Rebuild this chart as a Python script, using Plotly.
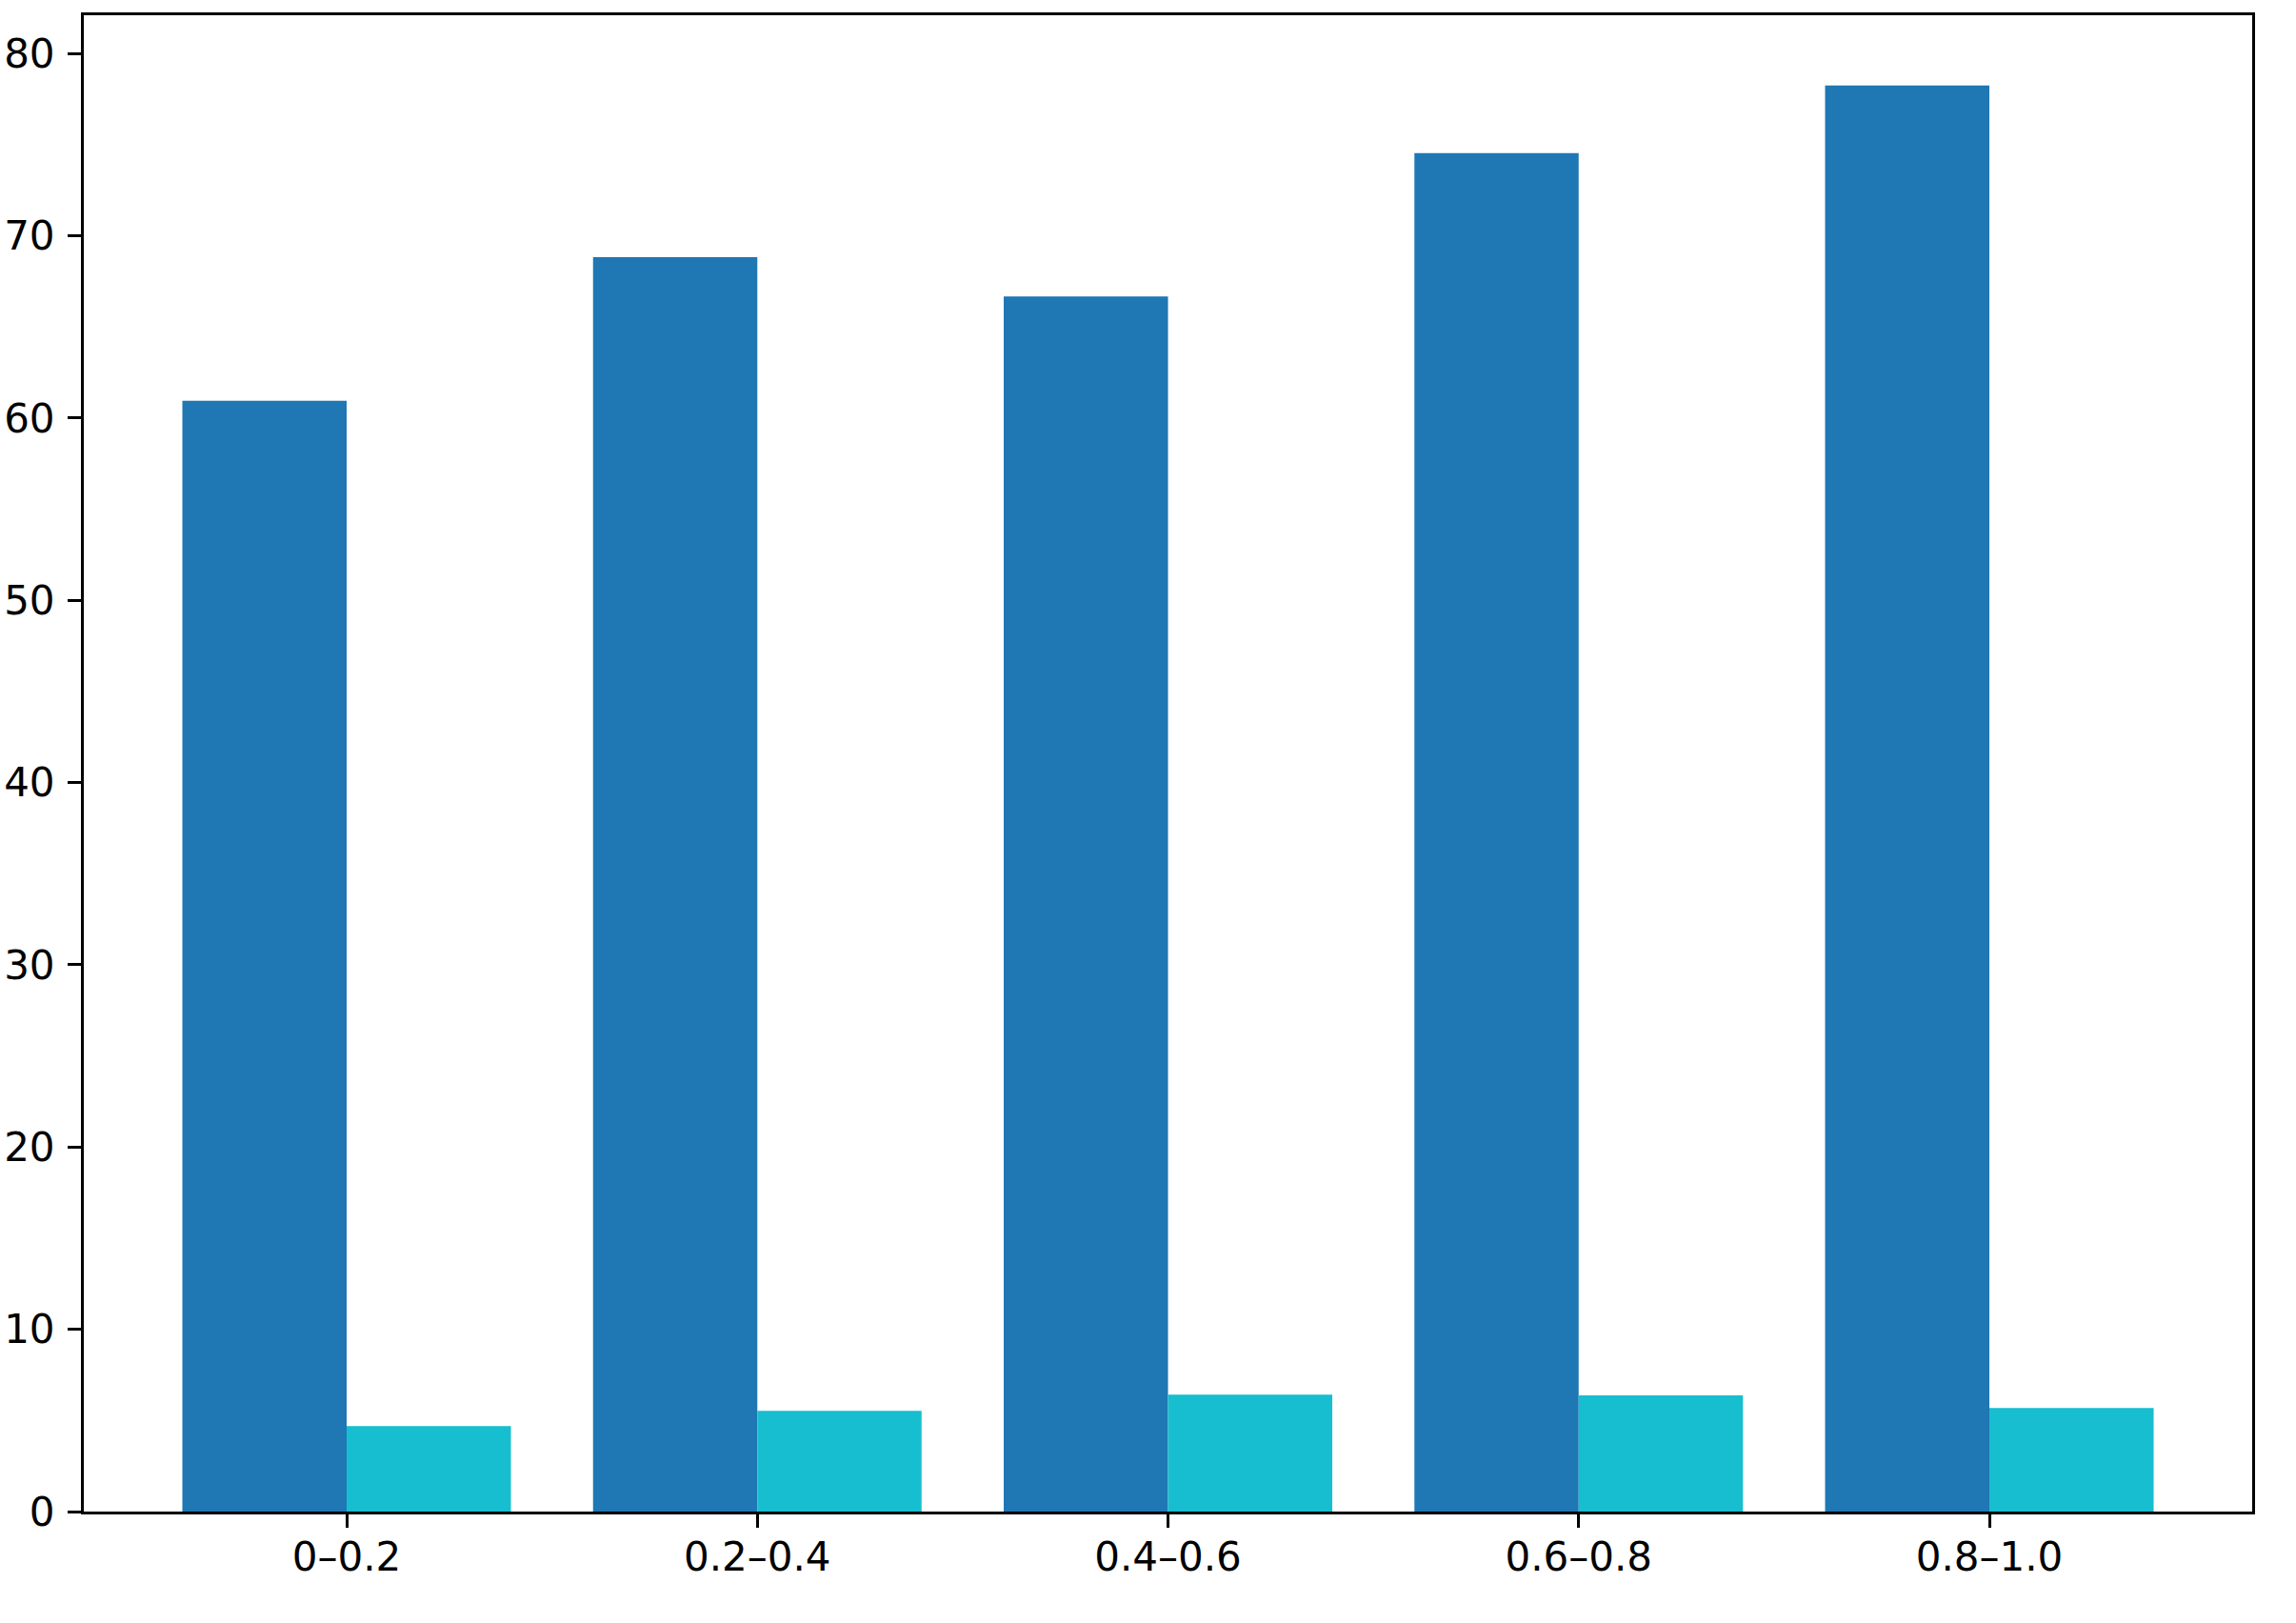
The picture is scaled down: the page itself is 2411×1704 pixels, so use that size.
import plotly.graph_objects as go

categories = ["0–0.2", "0.2–0.4", "0.4–0.6", "0.6–0.8", "0.8–1.0"]
series_a = [60.95, 68.83, 66.67, 74.54, 78.25]
series_b = [4.69, 5.52, 6.41, 6.37, 5.68]

AXIS = dict(
    showline=True, linecolor="black", linewidth=3, mirror=True,
    ticks="outside", ticklen=14, tickwidth=3, tickcolor="black",
    showgrid=False, zeroline=False, automargin=False,
    tickfont=dict(family="DejaVu Sans", size=42, color="black"),
)

fig = go.Figure()
fig.add_trace(go.Bar(x=categories, y=series_a, marker=dict(color="#1f77b4", line=dict(width=0))))
fig.add_trace(go.Bar(x=categories, y=series_b, marker=dict(color="#17becf", line=dict(width=0))))

fig.update_xaxes(**AXIS, range=[-0.64, 4.64], ticklabelstandoff=-5)
fig.update_yaxes(**AXIS, range=[0, 82.1], tickvals=[0, 10, 20, 30, 40, 50, 60, 70, 80],
                 ticklabelstandoff=5)
fig.update_layout(
    width=2411, height=1704,
    barmode="group", bargap=0.2, bargroupgap=0,
    paper_bgcolor="white", plot_bgcolor="white",
    showlegend=False,
    margin=dict(l=88, r=46, t=16, b=117, pad=0),
)
# drop the page's default 8px body margin so the figure fills the window
fig.write_html("out.html", config={"displayModeBar": False},
               post_script="document.body.style.margin = '0';")
